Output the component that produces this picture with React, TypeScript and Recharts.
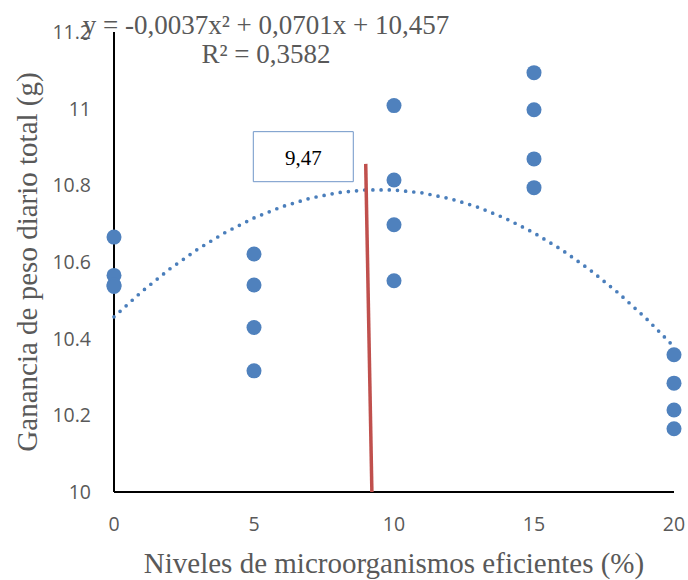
import React from 'react';
import { ScatterChart, Scatter, XAxis, YAxis, ReferenceArea } from 'recharts';

// Observed data: daily weight gain per level of efficient microorganisms
const levels = [0, 5, 10, 15, 20];
const rep1 = [10.665, 10.621, 11.008, 11.094, 10.358];
const rep2 = [10.565, 10.54, 10.814, 10.997, 10.284];
const rep3 = [10.54, 10.429, 10.697, 10.869, 10.214];
const rep4 = [10.536, 10.316, 10.551, 10.794, 10.165];

// Polynomial trend line (y = -0,0037x² + 0,0701x + 10,457) evaluated at each level step
const trendX = [0, 1, 2, 3, 4, 5, 6, 7, 8, 9, 10, 11, 12, 13, 14, 15, 16, 17, 18, 19, 20];
const trendY = [10.457, 10.5234, 10.5824, 10.634, 10.6782, 10.715, 10.7444, 10.7664, 10.781, 10.7882, 10.788, 10.7804, 10.7654, 10.743, 10.7132, 10.676, 10.6314, 10.5794, 10.52, 10.4532, 10.379];

// Optimum marker line
const optimumX = [8.99, 9.21];
const optimumY = [10.856, 10.0];
const optimumLabel = '9,47';

const xTicks = [0, 5, 10, 15, 20];
const yTicks = [10, 10.2, 10.4, 10.6, 10.8, 11, 11.2];

const equationLine1 = 'y = -0,0037x² + 0,0701x + 10,457';
const equationLine2 = 'R² = 0,3582';
const xTitle = 'Niveles de microorganismos eficientes (%)';
const yTitle = 'Ganancia de peso diario total (g)';

const points = [rep1, rep2, rep3, rep4].flatMap((rep) => rep.map((y, i) => ({ x: levels[i], y })));
const trend = trendX.map((x, i) => ({ x, y: trendY[i] }));
const optimum = optimumX.map((x, i) => ({ x, y: optimumY[i] }));

const BLUE = '#4F81BD';
const GREY = '#595959';
const SERIF = '"Liberation Serif", "Times New Roman", serif';
const SANS = '"Open Sans", "Noto Sans", sans-serif';

const Dot = (props: any) => <circle cx={props.cx} cy={props.cy} r={7.5} fill={BLUE} />;
const NoShape = () => <g />;

const XTitle = (props: any) => {
  const vb = props.viewBox || {};
  return (
    <text x={vb.x + vb.width / 2} y={vb.y + vb.height - 7} textAnchor="middle" fontFamily={SERIF} fontSize={29} fill={GREY}>
      {xTitle}
    </text>
  );
};

const YTitle = (props: any) => {
  const vb = props.viewBox || {};
  return (
    <text transform={`translate(${vb.x + 37}, ${vb.y + vb.height / 2}) rotate(-90)`} x={0} y={0} textAnchor="middle" fontFamily={SERIF} fontSize={29} fill={GREY}>
      {yTitle}
    </text>
  );
};

const BoxLabel = (props: any) => {
  const vb = props.viewBox || {};
  return (
    <text x={vb.x + vb.width / 2} y={vb.y + vb.height / 2 + 8.5} textAnchor="middle" fontFamily={SERIF} fontSize={21} fill="#000">
      {optimumLabel}
    </text>
  );
};

export default function App() {
  return (
    <div style={{ position: 'absolute', left: 0, top: 0, width: 688, height: 580, background: '#fff' }}>
      <ScatterChart width={688} height={580} margin={{ top: 32, right: 14, bottom: 0, left: 0 }}>
        <XAxis
          type="number"
          dataKey="x"
          domain={[0, 20]}
          ticks={xTicks}
          height={88}
          tickLine={false}
          tickSize={0}
          tickMargin={25}
          axisLine={{ stroke: '#000', strokeWidth: 2 }}
          tick={{ fill: GREY, fontSize: 19.5, fontFamily: SANS }}
          label={{ content: XTitle }}
        />
        <YAxis
          type="number"
          dataKey="y"
          domain={[10, 11.2]}
          ticks={yTicks}
          width={114}
          tickLine={false}
          tickSize={0}
          tickMargin={23}
          axisLine={{ stroke: '#000', strokeWidth: 2 }}
          tick={{ fill: GREY, fontSize: 19.5, fontFamily: SANS }}
          label={{ content: YTitle }}
        />
        <ReferenceArea
          x1={4.975}
          x2={8.546}
          y1={10.8095}
          y2={10.94}
          fill="#fff"
          fillOpacity={1}
          stroke="#7096C8"
          strokeWidth={1}
          label={{ content: BoxLabel }}
        />
        <Scatter
          data={trend}
          shape={NoShape}
          line={{ stroke: '#4A7EBB', strokeWidth: 3.7, strokeDasharray: '0 8.2', strokeLinecap: 'round' }}
          isAnimationActive={false}
        />
        <Scatter
          data={optimum}
          shape={NoShape}
          line={{ stroke: '#C0504D', strokeWidth: 3.5 }}
          isAnimationActive={false}
        />
        <Scatter data={points} shape={Dot} isAnimationActive={false} />
      </ScatterChart>
      <svg width={688} height={80} style={{ position: 'absolute', left: 0, top: 0, pointerEvents: 'none' }}>
        <text x={266} y={34} textAnchor="middle" fontFamily={SERIF} fontSize={27} fill={GREY}>
          {equationLine1}
        </text>
        <text x={266} y={63} textAnchor="middle" fontFamily={SERIF} fontSize={27} fill={GREY}>
          {equationLine2}
        </text>
      </svg>
    </div>
  );
}
